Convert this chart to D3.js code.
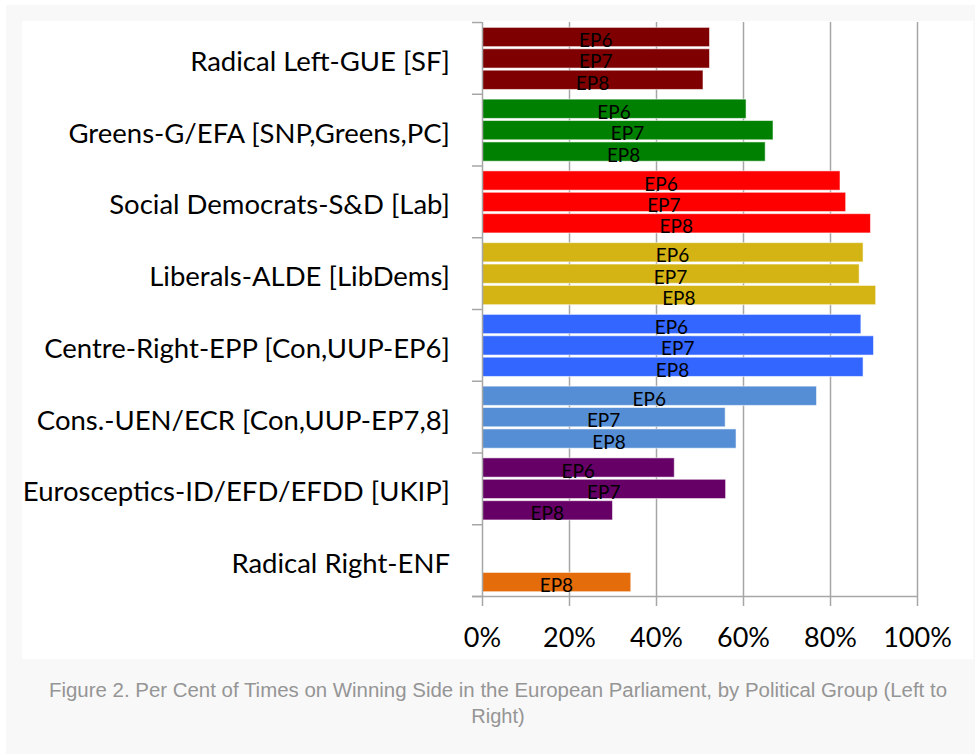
<!DOCTYPE html>
<html>
<head>
<meta charset="utf-8">
<script src="https://cdn.jsdelivr.net/npm/d3@7"></script>
<style>
  html, body { margin: 0; padding: 0; background: #ffffff; }
  svg { display: block; }
</style>
</head>
<body>
<svg id="chart" width="975" height="754"></svg>
<script>
// ---- data ----
const categories = [
  "Radical Left-GUE [SF]",
  "Greens-G/EFA [SNP,Greens,PC]",
  "Social Democrats-S&D [Lab]",
  "Liberals-ALDE [LibDems]",
  "Centre-Right-EPP [Con,UUP-EP6]",
  "Cons.-UEN/ECR [Con,UUP-EP7,8]",
  "Eurosceptics-ID/EFD/EFDD [UKIP]",
  "Radical Right-ENF"
];
const seriesNames = ["EP6", "EP7", "EP8"];
const ep6 = [52.3, 60.7, 82.3, 87.6, 87.1, 76.9, 44.2, null];
const ep7 = [52.3, 66.9, 83.6, 86.7, 90.0, 55.9, 56.0, null];
const ep8 = [50.8, 65.1, 89.3, 90.5, 87.6, 58.4, 30.0, 34.2];
const groupColors = ["#7f0000", "#008000", "#ff0000", "#d4b414", "#3366ff", "#558ed5", "#660066", "#e46c0a"];
const xTicks = [0, 20, 40, 60, 80, 100];
const captionLines = [
  "Figure 2. Per Cent of Times on Winning Side in the European Parliament, by Political Group (Left to",
  "Right)"
];

// ---- layout ----
const svg = d3.select("#chart");
const plot = { left: 482, right: 917, top: 22, bottom: 596 };

// backgrounds
svg.append("rect").attr("x", 6).attr("y", 5).attr("width", 969).attr("height", 749).attr("fill", "#f8f8f8");
svg.append("rect").attr("x", 22).attr("y", 21).attr("width", 951).attr("height", 638).attr("fill", "#ffffff");

const x = d3.scaleLinear().domain([0, 100]).range([plot.left, plot.right]);
const y0 = d3.scaleBand().domain(categories).range([plot.top, plot.bottom]).padding(0);
const bw = y0.bandwidth();
const y1 = d3.scaleBand().domain(seriesNames).range([bw * 0.075, bw * 0.94]).paddingInner(0.1);
const boundary = d3.scaleLinear().domain([0, categories.length]).range([plot.top, plot.bottom]);

// gridlines
const grid = svg.append("g")
  .attr("transform", `translate(0,${plot.bottom})`)
  .call(d3.axisBottom(x).tickValues(xTicks.slice(1)).tickSize(-(plot.bottom - plot.top)).tickFormat(""));
grid.select(".domain").remove();
grid.selectAll("line").attr("stroke", "#a6a6a6").attr("stroke-width", 1.5);

// bars
const rows = [];
categories.forEach((c, i) => {
  [ep6, ep7, ep8].forEach((arr, j) => {
    if (arr[i] !== null) rows.push({ cat: c, series: seriesNames[j], value: arr[i], color: groupColors[i] });
  });
});

const barG = svg.append("g");
barG.selectAll("rect").data(rows).join("rect")
  .attr("x", x(0))
  .attr("y", d => y0(d.cat) + y1(d.series))
  .attr("width", d => x(d.value) - x(0))
  .attr("height", y1.bandwidth())
  .attr("fill", d => d.color)
  .attr("stroke", "rgba(255,255,255,0.55)")
  .attr("stroke-width", 1);

barG.selectAll("text").data(rows).join("text")
  .attr("x", d => (x(0) + x(d.value)) / 2)
  .attr("y", d => y0(d.cat) + y1(d.series) + y1.bandwidth() / 2 + 10)
  .attr("text-anchor", "middle")
  .attr("font-family", "Lato, 'Open Sans', sans-serif")
  .attr("font-size", 19)
  .attr("fill", "#000")
  .text(d => d.series);

// x axis
const xAxis = svg.append("g")
  .attr("transform", `translate(0,${plot.bottom})`)
  .call(d3.axisBottom(x).tickValues(xTicks).tickSize(10).tickPadding(22).tickFormat(d => d + "%"));
xAxis.select(".domain").attr("d", `M${plot.left - 10},0.5H${plot.right}`).attr("stroke", "#a6a6a6").attr("stroke-width", 1.5);
xAxis.selectAll("line").attr("stroke", "#a6a6a6").attr("stroke-width", 1.5);
xAxis.selectAll("text").attr("font-family", "Lato, 'Open Sans', sans-serif").attr("font-size", 27).attr("fill", "#000");

// y axis (boundary ticks)
const yAxis = svg.append("g")
  .attr("transform", `translate(${plot.left},0)`)
  .call(d3.axisLeft(boundary).tickValues(d3.range(categories.length + 1)).tickSize(10).tickFormat(""));
yAxis.select(".domain").attr("d", `M0.5,${plot.top}V${plot.bottom}`).attr("stroke", "#a6a6a6").attr("stroke-width", 1.5);
yAxis.selectAll("line").attr("stroke", "#a6a6a6").attr("stroke-width", 1.5);

// category labels
svg.append("g").selectAll("text").data(categories).join("text")
  .attr("x", 450)
  .attr("y", d => y0(d) + bw / 2 + 13)
  .attr("text-anchor", "end")
  .attr("font-family", "Lato, 'Open Sans', sans-serif")
  .attr("font-size", 27.5)
  .attr("fill", "#000")
  .text(d => d);

// caption
svg.append("g").selectAll("text").data(captionLines).join("text")
  .attr("x", 498)
  .attr("y", (d, i) => 697 + i * 26)
  .attr("text-anchor", "middle")
  .attr("font-family", "'Liberation Sans', Arial, sans-serif")
  .attr("font-size", 20)
  .attr("fill", "#959595")
  .each(function (d, i) {
    if (i === 0) d3.select(this).attr("textLength", 898).attr("lengthAdjust", "spacingAndGlyphs");
  })
  .text(d => d);
</script>
</body>
</html>
